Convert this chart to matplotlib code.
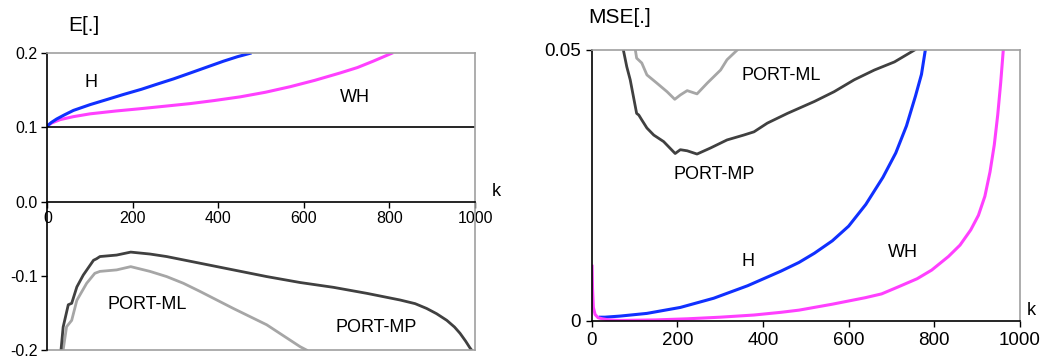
import numpy as np
import matplotlib.pyplot as plt

plt.rcParams['font.family'] = ['Liberation Sans', 'DejaVu Sans']

# =======================
# Datos - panel E[.]
# =======================
e_h_k = [0, 10, 22, 40, 61, 100, 140, 178, 220, 256, 295, 334, 372, 412, 445, 474]
e_h_v = [0.1023, 0.107, 0.1115, 0.117, 0.123, 0.1308, 0.1378, 0.1445, 0.1515, 0.1583,
         0.1655, 0.1734, 0.1812, 0.1894, 0.1955, 0.200]

e_wh_k = [0, 10, 30, 60, 100, 160, 217, 275, 334, 390, 451, 510, 568, 625, 684, 725, 762, 805]
e_wh_v = [0.1023, 0.106, 0.1106, 0.1145, 0.1184, 0.1222, 0.1253, 0.1287, 0.1322, 0.1363,
          0.1413, 0.1475, 0.155, 0.1635, 0.1734, 0.1808, 0.1894, 0.200]

e_mp_k = [32, 37, 49, 57, 69, 84, 108, 115, 123, 162, 195, 240, 279, 357, 435, 513,
          591, 669, 747, 825, 860, 887, 910, 934, 952, 965, 978, 988, 992]
e_mp_v = [-0.200, -0.169, -0.139, -0.137, -0.115, -0.099, -0.079, -0.077, -0.074, -0.072,
          -0.068, -0.0706, -0.074, -0.083, -0.092, -0.101, -0.109, -0.1155, -0.1236,
          -0.1326, -0.1375, -0.144, -0.151, -0.160, -0.169, -0.1775, -0.188, -0.197, -0.200]

e_ml_k = [37, 45, 57, 69, 92, 111, 123, 162, 195, 240, 279, 318, 357, 435, 513, 591, 606]
e_ml_v = [-0.200, -0.1686, -0.160, -0.133, -0.110, -0.0966, -0.094, -0.092, -0.0876,
          -0.094, -0.101, -0.110, -0.121, -0.144, -0.166, -0.1955, -0.200]

# =======================
# Datos - panel MSE[.]
# =======================
m_h_k = [20, 31, 66, 129, 207, 285, 364, 442, 484, 520, 562, 600, 640, 680, 710, 735,
         756, 770, 779]
m_h_v = [0.0007, 0.0007, 0.0009, 0.0014, 0.0025, 0.0042, 0.0065, 0.0092, 0.0108, 0.0125,
         0.0148, 0.0175, 0.0215, 0.0265, 0.0310, 0.0360, 0.0415, 0.0455, 0.0500]

m_wh_k = [1, 2, 4, 8, 15, 25, 40, 66, 150, 223, 300, 379, 442, 484, 562, 639, 677, 716,
          760, 794, 833, 860, 885, 903, 918, 930, 940, 948, 955, 961]
m_wh_v = [0.0101, 0.0060, 0.0025, 0.0012, 0.0006, 0.0004, 0.0002, 0.0001, 0.0002,
          0.0004, 0.0007, 0.0011, 0.0016, 0.0020, 0.0031, 0.0043, 0.0050, 0.0063,
          0.0078, 0.0094, 0.0119, 0.0140, 0.0168, 0.0195, 0.0230, 0.0275, 0.0325,
          0.0380, 0.0440, 0.0500]

m_mp_k = [74, 82, 90, 105, 110, 117, 129, 145, 168, 195, 207, 223, 246, 277, 316, 355,
          379, 410, 457, 520, 566, 613, 660, 707, 754]
m_mp_v = [0.0500, 0.0469, 0.0445, 0.0383, 0.0380, 0.0371, 0.0356, 0.0343, 0.0331,
          0.0309, 0.0316, 0.0314, 0.0308, 0.0319, 0.0334, 0.0343, 0.0349, 0.0365,
          0.0383, 0.0405, 0.0423, 0.0445, 0.0463, 0.0478, 0.0500]

m_ml_k = [102, 105, 117, 129, 152, 176, 194, 207, 223, 246, 270, 301, 316, 340]
m_ml_v = [0.0500, 0.0485, 0.0476, 0.0454, 0.0439, 0.0423, 0.0409, 0.0417, 0.0425,
          0.0419, 0.0439, 0.0463, 0.0482, 0.0500]

x_ticks = [0, 200, 400, 600, 800, 1000]
e_yticks = [-0.2, -0.1, 0.0, 0.1, 0.2]
e_ylabels = ["-0.2", "-0.1", "0.0", "0.1", "0.2"]
m_yticks = [0, 0.05]
m_ylabels = ["0", "0.05"]

BLUE = "#1030ff"
MAGENTA = "#ff40ff"
DARK = "#404040"
LIGHT = "#a6a6a6"
FRAME = "#a0a0a0"

fig = plt.figure(figsize=(10.47, 3.58), dpi=100)

# =======================
# Panel izquierdo: E[.]
# =======================
ax1 = fig.add_axes([0.0452, 0.0223, 0.4085, 0.8288])
ax1.plot(e_ml_k, e_ml_v, color=LIGHT, lw=2)
ax1.plot(e_mp_k, e_mp_v, color=DARK, lw=2)
ax1.plot(e_wh_k, e_wh_v, color=MAGENTA, lw=2.2)
ax1.plot(e_h_k, e_h_v, color=BLUE, lw=2.2)
ax1.axhline(0.1, color="black", lw=1.2)
ax1.axhline(-0.2, color=FRAME, lw=1.2, clip_on=False)
ax1.set_xlim(0, 1000)
ax1.set_ylim(-0.2, 0.2)
ax1.spines["bottom"].set_position(("data", 0))
ax1.spines["bottom"].set_color("black")
ax1.spines["left"].set_color("black")
ax1.spines["top"].set_color(FRAME)
ax1.spines["right"].set_color(FRAME)
for s in ax1.spines.values():
    s.set_linewidth(1.2)
ax1.set_xticks(x_ticks)
ax1.set_yticks(e_yticks)
ax1.set_yticklabels(e_ylabels)
ax1.tick_params(direction="out", length=4, width=1, labelsize=11.5, pad=3)
ax1.text(102, 0.160, "H", fontsize=13, ha="center", va="center")
ax1.text(720, 0.141, "WH", fontsize=13, ha="center", va="center")
ax1.text(233, -0.139, "PORT-ML", fontsize=13, ha="center", va="center")
ax1.text(769, -0.169, "PORT-MP", fontsize=13, ha="center", va="center")

fig.text(0.065, 0.930, "E[.]", fontsize=15, ha="left", va="center")
fig.text(0.474, 0.464, "k", fontsize=13, ha="center", va="center")

# =======================
# Panel derecho: MSE[.]
# =======================
ax2 = fig.add_axes([0.5651, 0.1034, 0.4091, 0.757])
ax2.plot(m_ml_k, m_ml_v, color=LIGHT, lw=2)
ax2.plot(m_mp_k, m_mp_v, color=DARK, lw=2)
ax2.plot(m_h_k, m_h_v, color=BLUE, lw=2.2)
ax2.plot(m_wh_k, m_wh_v, color=MAGENTA, lw=2.2)
ax2.set_xlim(0, 1000)
ax2.set_ylim(0, 0.05)
ax2.spines["bottom"].set_color("black")
ax2.spines["left"].set_color("black")
ax2.spines["top"].set_color(FRAME)
ax2.spines["right"].set_color(FRAME)
for s in ax2.spines.values():
    s.set_linewidth(1.2)
ax2.set_xticks(x_ticks)
ax2.set_yticks(m_yticks)
ax2.set_yticklabels(m_ylabels)
ax2.tick_params(direction="out", length=4, width=1, labelsize=13.5, pad=4)
ax2.text(443, 0.0452, "PORT-ML", fontsize=13, ha="center", va="center")
ax2.text(285, 0.0271, "PORT-MP", fontsize=13, ha="center", va="center")
ax2.text(364, 0.0109, "H", fontsize=13, ha="center", va="center")
ax2.text(726, 0.0127, "WH", fontsize=13, ha="center", va="center")

fig.text(0.5615, 0.9525, "MSE[.]", fontsize=15, ha="left", va="center")
fig.text(0.985, 0.134, "k", fontsize=13, ha="center", va="center")

plt.savefig("out.png", dpi=100)
